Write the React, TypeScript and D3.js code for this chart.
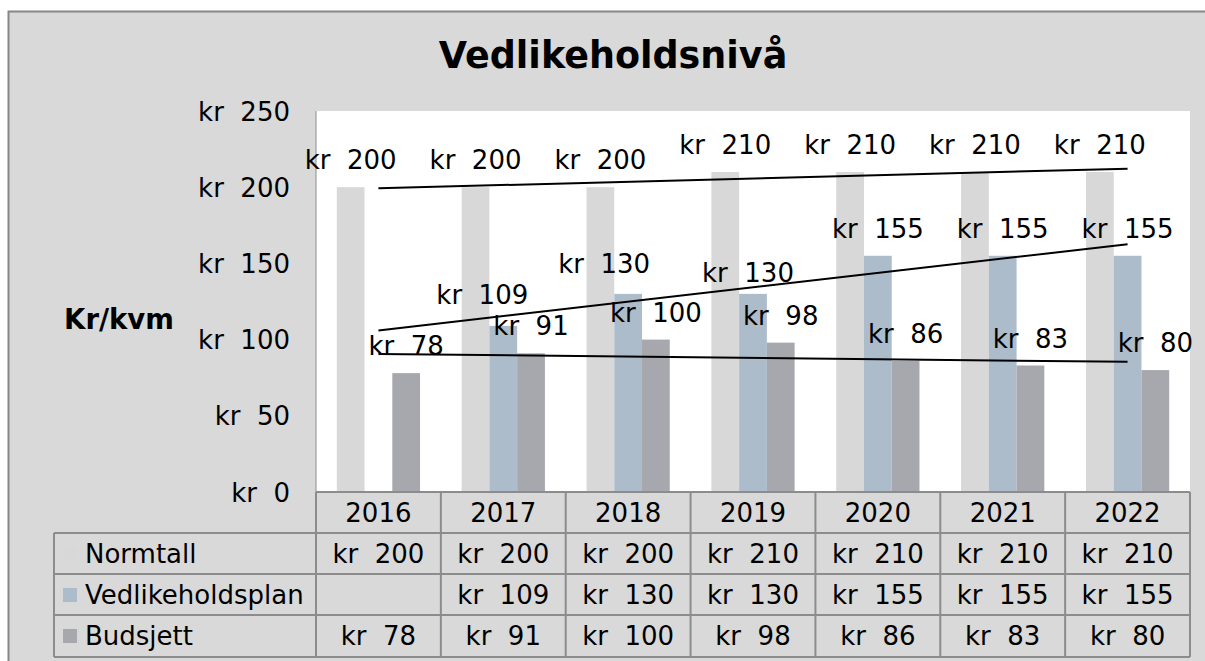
import React from "react";
import * as d3 from "d3";

const years = ["2016", "2017", "2018", "2019", "2020", "2021", "2022"];
const seriesNames = ["Normtall", "Vedlikeholdsplan", "Budsjett"];
const normtall: (number | null)[] = [200, 200, 200, 210, 210, 210, 210];
const vedlikeholdsplan: (number | null)[] = [null, 109, 130, 130, 155, 155, 155];
const budsjett: (number | null)[] = [78, 91, 100, 98, 86, 83, 80];
const yTicks = [0, 50, 100, 150, 200, 250];

const seriesValues = [normtall, vedlikeholdsplan, budsjett];
const colors = ["#D8D8D8", "#ACBCCA", "#A6A8AD"];
// manual label nudges (style only) per series per year: [dx, dy]
const labelNudges: [number, number][][] = [
  [[0, 0], [0, 0], [0, 0], [0, 0], [0, 0], [0, 0], [0, 0]],
  [[0, 0], [-21, -4], [-24, -3], [-5, 6], [0, 0], [0, 0], [0, 0]],
  [[0, 0], [0, 0], [0, 0], [0, 0], [0, 0], [0, 0], [0, 0]],
];

const FONT = "'DejaVu Sans', Verdana, sans-serif";
const fmt = (v: number) => `kr  ${v}`;

export default function App() {
  const W = 1205, H = 661;
  const plotL = 316, plotR = 1190, plotT = 111, plotB = 492;
  const x0 = d3.scaleBand<string>().domain(years).range([plotL, plotR]).paddingInner(0).paddingOuter(0);
  const bw = x0.bandwidth() / 4.5;
  const x1 = d3.scaleBand<string>().domain(seriesNames).range([0.75 * bw, 3.75 * bw]).padding(0);
  const y = d3.scaleLinear().domain([0, 250]).range([plotB, plotT]);

  const rowTops = [533, 574, 615];
  const tableBottom = 657;
  const tableLeft = 54;
  const grid = "#8C8C8C";

  const trend = (vals: (number | null)[]) => {
    const pts = vals.map((v, i) => [i, v] as [number, number | null]).filter((p) => p[1] != null) as [number, number][];
    const mx = d3.mean(pts, (p) => p[0])!;
    const my = d3.mean(pts, (p) => p[1])!;
    const sxy = d3.sum(pts, (p) => (p[0] - mx) * (p[1] - my));
    const sxx = d3.sum(pts, (p) => (p[0] - mx) ** 2);
    const b = sxy / sxx;
    const a = my - b * mx;
    const n = vals.length - 1;
    return [
      [x0(years[0])! + x0.bandwidth() / 2, y(a)],
      [x0(years[n])! + x0.bandwidth() / 2, y(a + b * n)],
    ] as [number, number][];
  };
  const line = d3.line<[number, number]>();

  return (
    <svg width={W} height={H} style={{ position: "absolute", left: 0, top: 0 }} fontFamily={FONT}>
      <rect x={0} y={0} width={W} height={H} fill="#fff" />
      <rect x={8.5} y={11.5} width={1210} height={700} fill="#D9D9D9" stroke="#878787" strokeWidth={2} />
      <text x={613} y={67.5} textAnchor="middle" fontSize={36.5} fontWeight="bold" fill="#000">
        Vedlikeholdsnivå
      </text>
      <rect x={plotL} y={plotT} width={plotR - plotL} height={plotB - plotT} fill="#fff" />
      <line x1={plotL} x2={plotL} y1={plotT} y2={plotB} stroke={grid} strokeWidth={1} />

      {yTicks.map((t) => (
        <text key={t} x={290} y={y(t) + 9.5} textAnchor="end" fontSize={26} fill="#000" style={{ whiteSpace: "pre" }}>
          {fmt(t)}
        </text>
      ))}
      <text x={119} y={329} textAnchor="middle" fontSize={27.5} fontWeight="bold" fill="#000">
        Kr/kvm
      </text>

      {seriesValues.map((vals, si) =>
        vals.map((v, i) =>
          v == null ? null : (
            <rect
              key={`b${si}-${i}`}
              x={x0(years[i])! + x1(seriesNames[si])!}
              y={y(v)}
              width={x1.bandwidth()}
              height={y(0) - y(v)}
              fill={colors[si]}
            />
          )
        )
      )}

      {seriesValues.map((vals, si) => (
        <path key={`t${si}`} d={line(trend(vals))!} stroke="#000" strokeWidth={2} fill="none" />
      ))}

      {seriesValues.map((vals, si) =>
        vals.map((v, i) =>
          v == null ? null : (
            <text
              key={`l${si}-${i}`}
              x={x0(years[i])! + x1(seriesNames[si])! + x1.bandwidth() / 2 + labelNudges[si][i][0]}
              y={y(v) - 18 + labelNudges[si][i][1]}
              textAnchor="middle"
              fontSize={26}
              fill="#000"
              style={{ whiteSpace: "pre" }}
            >
              {fmt(v)}
            </text>
          )
        )
      )}

      {/* data table */}
      <g stroke={grid} strokeWidth={2}>
        <line x1={plotL} x2={plotR} y1={plotB} y2={plotB} />
        {[...rowTops, tableBottom].map((ry) => (
          <line key={`h${ry}`} x1={tableLeft} x2={plotR} y1={ry} y2={ry} />
        ))}
        <line x1={tableLeft} x2={tableLeft} y1={rowTops[0]} y2={tableBottom} />
        {years.map((yr) => (
          <line key={`v${yr}`} x1={x0(yr)!} x2={x0(yr)!} y1={plotB} y2={tableBottom} />
        ))}
        <line x1={plotR} x2={plotR} y1={plotB} y2={tableBottom} />
      </g>
      {years.map((yr) => (
        <text key={`y${yr}`} x={x0(yr)! + x0.bandwidth() / 2} y={plotB + 30} textAnchor="middle" fontSize={26} fill="#000">
          {yr}
        </text>
      ))}
      {seriesNames.map((name, si) => (
        <g key={`r${si}`}>
          <rect x={63} y={rowTops[si] + 14} width={14} height={14} fill={colors[si]} />
          <text x={85} y={rowTops[si] + 30} fontSize={26} fill="#000">
            {name}
          </text>
          {seriesValues[si].map((v, i) =>
            v == null ? null : (
              <text
                key={`c${si}-${i}`}
                x={x0(years[i])! + x0.bandwidth() / 2}
                y={rowTops[si] + 30}
                textAnchor="middle"
                fontSize={26}
                fill="#000"
                style={{ whiteSpace: "pre" }}
              >
                {fmt(v)}
              </text>
            )
          )}
        </g>
      ))}
    </svg>
  );
}
